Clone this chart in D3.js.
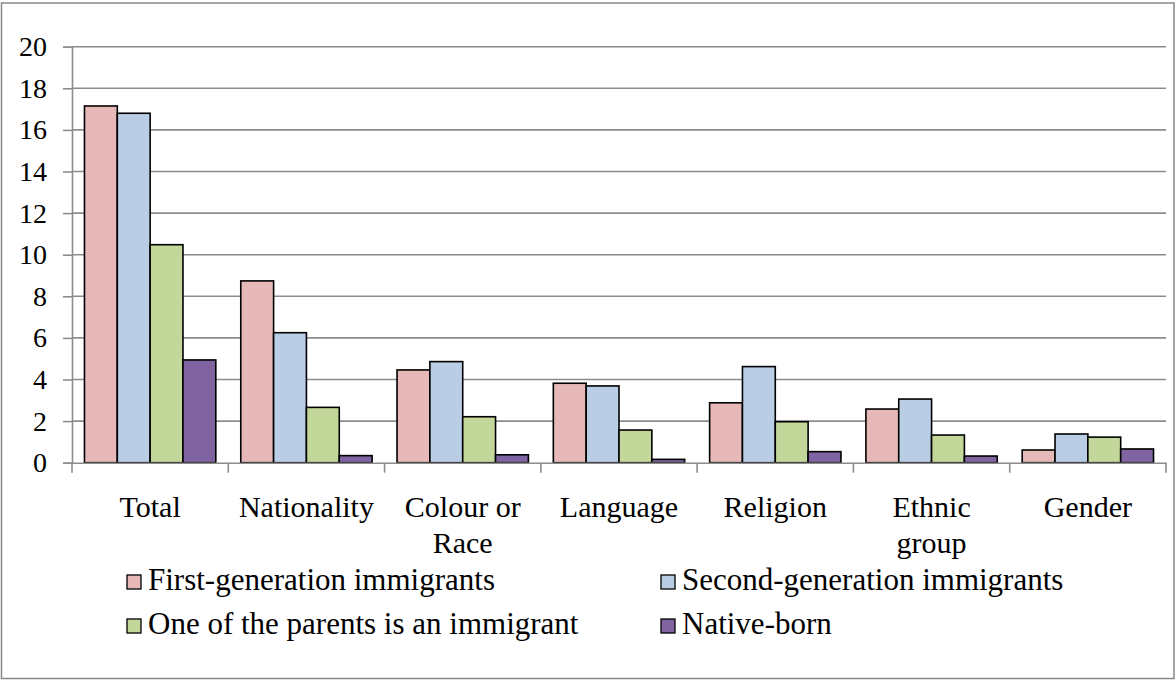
<!DOCTYPE html>
<html>
<head>
<meta charset="utf-8">
<script src="https://cdn.jsdelivr.net/npm/d3@7"></script>
<style>
  html, body { margin: 0; padding: 0; background: #fff; }
  svg { display: block; }
  text { font-family: "Liberation Serif", "Times New Roman", serif; fill: #000; }
</style>
</head>
<body>
<svg id="chart" width="1176" height="680"></svg>
<script>
const categories = ["Total", "Nationality", "Colour or Race", "Language", "Religion", "Ethnic group", "Gender"];
const seriesNames = ["First-generation immigrants", "Second-generation immigrants", "One of the parents is an immigrant", "Native-born"];
const firstGen  = [17.15, 8.74, 4.46, 3.82, 2.88, 2.58, 0.61];
const secondGen = [16.80, 6.25, 4.86, 3.69, 4.62, 3.06, 1.38];
const oneParent = [10.48, 2.66, 2.21, 1.57, 1.97, 1.33, 1.23];
const nativeBorn = [4.94, 0.34, 0.38, 0.16, 0.53, 0.32, 0.66];
const yTicks = [0, 2, 4, 6, 8, 10, 12, 14, 16, 18, 20];
const colors = ["#E6B9B8", "#B9CDE5", "#C4D79B", "#8064A2"];

const seriesValues = [firstGen, secondGen, oneParent, nativeBorn];

const svg = d3.select("#chart");
const plotLeft = 72, plotRight = 1166, plotTop = 46.7, plotBottom = 462.7;

// outer border
svg.append("rect").attr("x", 1.5).attr("y", 3).attr("width", 1172.5).attr("height", 675.5)
  .attr("fill", "none").attr("stroke", "#888").attr("stroke-width", 1.5);

const x = d3.scaleBand().domain(categories).range([plotLeft, plotRight]).paddingInner(0).paddingOuter(0);
const y = d3.scaleLinear().domain([0, 20]).range([plotBottom, plotTop]);
const xs = d3.scaleBand().domain(d3.range(seriesNames.length)).range([0, x.bandwidth()])
  .paddingInner(0).paddingOuter(0.38);

// gridlines
svg.append("g").selectAll("line").data(yTicks.filter(d => d > 0)).join("line")
  .attr("x1", plotLeft).attr("x2", plotRight).attr("y1", d => y(d)).attr("y2", d => y(d))
  .attr("stroke", "#8c8c8c").attr("stroke-width", 1.6);

// y axis
const yAxis = svg.append("g").attr("transform", `translate(${plotLeft},0)`)
  .call(d3.axisLeft(y).tickValues(yTicks).tickSize(9).tickPadding(16).tickFormat(d3.format("d")));
yAxis.select(".domain").attr("stroke", "#8c8c8c").attr("stroke-width", 1.6);
yAxis.selectAll(".tick line").attr("stroke", "#8c8c8c").attr("stroke-width", 1.6);
yAxis.selectAll(".tick text").attr("font-size", 28).attr("font-family", "Liberation Serif").attr("fill", "#000");

// bars
const groups = svg.append("g").selectAll("g").data(categories).join("g")
  .attr("transform", d => `translate(${x(d)},0)`);
groups.selectAll("rect").data((c, ci) => seriesValues.map((vals, si) => ({si, v: vals[ci]}))).join("rect")
  .attr("x", d => xs(d.si)).attr("width", xs.bandwidth())
  .attr("y", d => y(d.v)).attr("height", d => y(0) - y(d.v))
  .attr("fill", d => colors[d.si]).attr("stroke", "#000").attr("stroke-width", 1.6);

// x axis
const xAxis = svg.append("g").attr("transform", `translate(0,${plotBottom})`)
  .call(d3.axisBottom(x).tickSize(0).tickFormat(""));
xAxis.select(".domain").attr("stroke", "#8c8c8c").attr("stroke-width", 1.6);
xAxis.selectAll(".tick").remove();
const boundaries = categories.map(c => x(c)).concat([plotRight]);
xAxis.selectAll("line.bt").data(boundaries).join("line").attr("class", "bt")
  .attr("x1", d => d).attr("x2", d => d).attr("y1", 0).attr("y2", 10)
  .attr("stroke", "#8c8c8c").attr("stroke-width", 1.6);

// category labels with wrapping
const labelG = svg.append("g");
categories.forEach(c => {
  const cx = x(c) + x.bandwidth() / 2;
  const t = labelG.append("text").attr("x", cx).attr("y", 517)
    .attr("text-anchor", "middle").attr("font-size", 30);
  const words = c.split(" ");
  let line = [];
  let tspan = t.append("tspan").attr("x", cx).attr("dy", 0);
  words.forEach(w => {
    line.push(w);
    tspan.text(line.join(" "));
    if (tspan.node().getComputedTextLength() > x.bandwidth() - 8 && line.length > 1) {
      line.pop();
      tspan.text(line.join(" "));
      line = [w];
      tspan = t.append("tspan").attr("x", cx).attr("dy", 36).text(w);
    }
  });
});

// legend
const legendPos = [[127, 590], [661, 590], [127, 634], [661, 634]];
const lg = svg.append("g").selectAll("g").data(seriesNames).join("g")
  .attr("transform", (d, i) => `translate(${legendPos[i][0]},${legendPos[i][1]})`);
lg.append("rect").attr("x", 0).attr("y", -15).attr("width", 14).attr("height", 14)
  .attr("fill", (d, i) => colors[i]).attr("stroke", "#000").attr("stroke-width", 1.3);
lg.append("text").attr("x", 21).attr("y", 0).attr("font-size", 31).text(d => d);
</script>
</body>
</html>
